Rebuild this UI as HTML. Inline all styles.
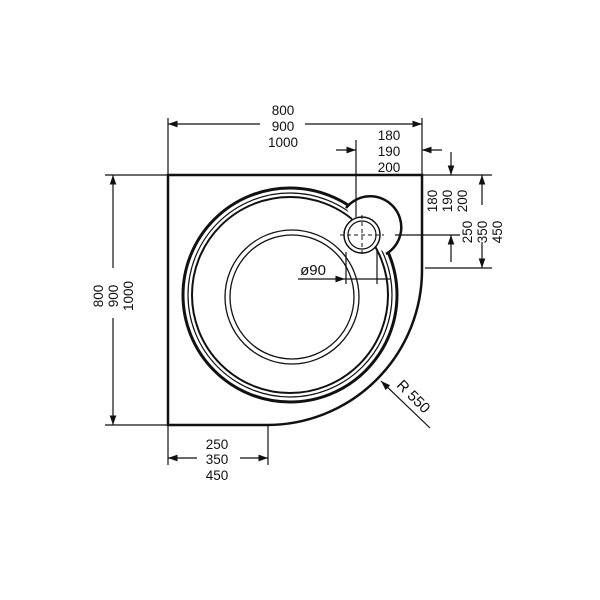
<!DOCTYPE html>
<html><head><style>body{margin:0;background:#fff}svg{display:block}text{font-family:"Liberation Sans",sans-serif;font-size:13.5px;fill:#111}</style></head>
<body>
<svg width="600" height="600" viewBox="0 0 600 600">
<defs>
<marker id="a" viewBox="0 0 10 10" refX="10" refY="5" markerWidth="8" markerHeight="8" orient="auto"><path d="M0,1.5 L10,5 L0,8.5z" fill="#111"/></marker>
</defs>
<g stroke="#111" fill="none">
<path d="M168,175 H422 V270 A155,155 0 0 1 267,425 H168 Z" stroke-width="2.5"/>
<circle cx="290" cy="295" r="107" stroke-width="3"/>
<circle cx="290" cy="295" r="102" stroke-width="1.2"/>
<circle cx="290" cy="295" r="98" stroke-width="2"/>
<circle cx="292" cy="297" r="67" stroke-width="1.3"/>
<circle cx="292" cy="297" r="62" stroke-width="1.3"/>
<path d="M346,208 A31,31 0 1 1 386,254 L362,235 Z" fill="#fff" stroke="none"/>
<path d="M346,208 A31,31 0 1 1 386,254" stroke-width="2.5"/>
<circle cx="362" cy="235" r="18" fill="#fff" stroke-width="1.5"/>
<circle cx="362" cy="235" r="14" stroke-width="1.2"/>
<g stroke-width="1" stroke-dasharray="4,3"><line x1="340" y1="235" x2="384" y2="235"/><line x1="362" y1="215" x2="362" y2="256"/></g>
<g stroke-width="1.2">
<line x1="168" y1="118" x2="168" y2="175"/><line x1="422" y1="118" x2="422" y2="175"/>
<line x1="260" y1="124" x2="168" y2="124" marker-end="url(#a)"/>
<line x1="305" y1="124" x2="422" y2="124" marker-end="url(#a)"/>
<line x1="356" y1="140" x2="356" y2="217"/>
<line x1="336" y1="150" x2="356" y2="150" marker-end="url(#a)"/>
<line x1="442" y1="150" x2="422" y2="150" marker-end="url(#a)"/>
<line x1="422" y1="175" x2="492" y2="175"/><line x1="395" y1="235" x2="460" y2="235"/><line x1="425" y1="268" x2="492" y2="268"/>
<line x1="451" y1="152" x2="451" y2="175" marker-end="url(#a)"/>
<line x1="451" y1="262" x2="451" y2="235" marker-end="url(#a)"/>
<line x1="482" y1="205" x2="482" y2="175" marker-end="url(#a)"/>
<line x1="482" y1="242" x2="482" y2="268" marker-end="url(#a)"/>
<line x1="105" y1="175" x2="168" y2="175"/><line x1="105" y1="425" x2="168" y2="425"/>
<line x1="113" y1="268" x2="113" y2="175" marker-end="url(#a)"/>
<line x1="113" y1="318" x2="113" y2="425" marker-end="url(#a)"/>
<line x1="168" y1="425" x2="168" y2="465"/><line x1="268" y1="425" x2="268" y2="465"/>
<line x1="197" y1="458" x2="168" y2="458" marker-end="url(#a)"/>
<line x1="240" y1="458" x2="268" y2="458" marker-end="url(#a)"/>
<line x1="298" y1="279" x2="345" y2="279" marker-end="url(#a)"/>
<line x1="345" y1="279" x2="390" y2="279"/>
<line x1="346" y1="252" x2="346" y2="284"/><line x1="377" y1="250" x2="377" y2="284"/>
<line x1="430" y1="428" x2="381" y2="381" marker-end="url(#a)"/>
</g>
</g>
<g text-anchor="middle">
<text x="283" y="115">800</text><text x="283" y="131">900</text><text x="283" y="147">1000</text>
<text x="389" y="140">180</text><text x="389" y="156">190</text><text x="389" y="172">200</text>
<text x="217" y="449">250</text><text x="217" y="464">350</text><text x="217" y="480">450</text>
<text transform="translate(437,201) rotate(-90)">180</text>
<text transform="translate(452,201) rotate(-90)">190</text>
<text transform="translate(467,201) rotate(-90)">200</text>
<text transform="translate(472,232) rotate(-90)">250</text>
<text transform="translate(487,232) rotate(-90)">350</text>
<text transform="translate(502,232) rotate(-90)">450</text>
<text transform="translate(103,296) rotate(-90)">800</text>
<text transform="translate(118,296) rotate(-90)">900</text>
<text transform="translate(133,296) rotate(-90)">1000</text>
<text transform="translate(410,400) rotate(45)" style="font-size:15px">R 550</text>
<text x="313" y="275" style="font-size:15px">ø90</text>
</g>
</svg>
</body></html>
